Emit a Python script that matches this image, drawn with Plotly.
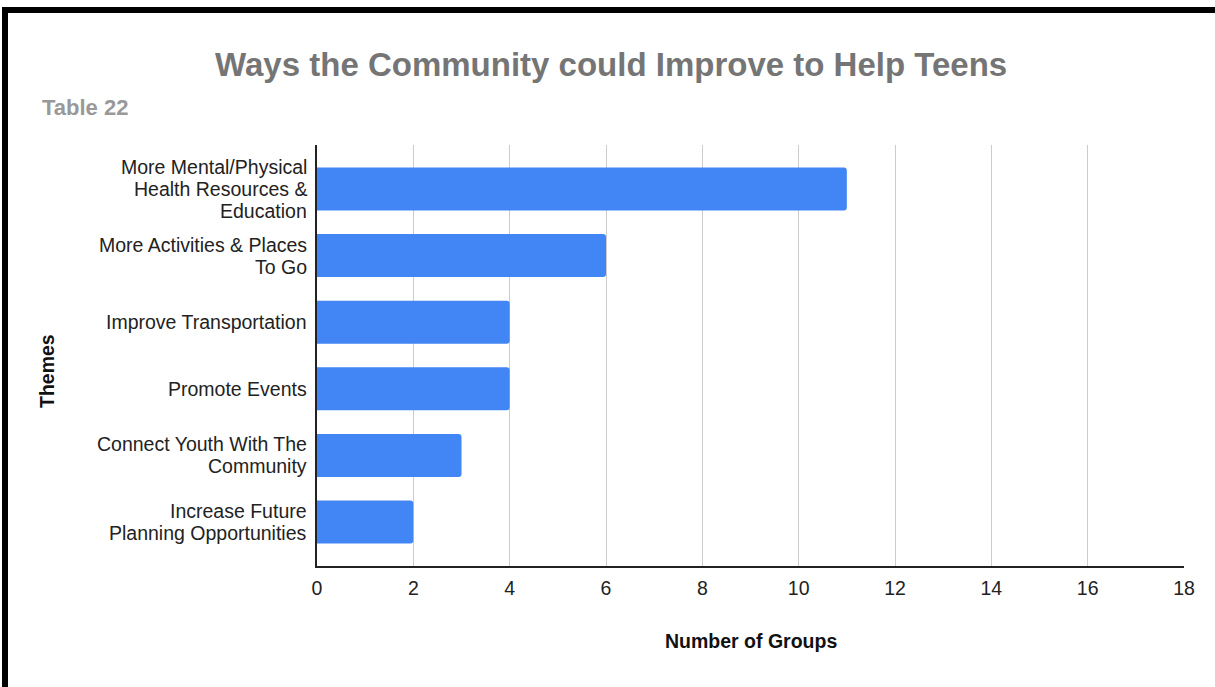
import plotly.graph_objects as go

# Survey themes and how many groups mentioned each
themes = [
    "More Mental/Physical<br>Health Resources &<br>Education",
    "More Activities & Places<br>To Go",
    "Improve Transportation",
    "Promote Events",
    "Connect Youth With The<br>Community",
    "Increase Future<br>Planning Opportunities",
]
group_counts = [11, 6, 4, 4, 3, 2]
x_ticks = [0, 2, 4, 6, 8, 10, 12, 14, 16, 18]

W, H = 1215, 687
L, R, T, B = 317, 1184, 145, 566  # plot area in pixels
LINE_GAP = 22  # pixel spacing between lines of a wrapped category label


def px_x(px):
    return (px - L) / (R - L)


def px_y(py):
    return (B - py) / (B - T)


fig = go.Figure(
    go.Bar(
        x=group_counts,
        y=themes,
        orientation="h",
        marker=dict(color="#4285F4", cornerradius=3, line=dict(width=0)),
        width=0.645,
        hoverinfo="x",
    )
)

FONT = "Liberation Sans, Arial, sans-serif"
label_font = dict(family=FONT, size=19.5, color="#222222")

# Category labels, one annotation per wrapped line so the line spacing stays tight
label_annotations = []
for theme in themes:
    lines = theme.split("<br>")
    n = len(lines)
    for i, line in enumerate(lines):
        label_annotations.append(
            dict(
                text=line,
                xref="paper", yref="y",
                x=0, y=theme,
                xanchor="right", yanchor="middle",
                xshift=-8,
                yshift=((n - 1) / 2 - i) * LINE_GAP,
                showarrow=False,
                font=label_font,
            )
        )

fig.update_layout(
    width=W,
    height=H,
    margin=dict(l=L, r=W - R, t=T, b=H - B, pad=0),
    paper_bgcolor="white",
    plot_bgcolor="white",
    showlegend=False,
    title=dict(
        text="<b>Ways the Community could Improve to Help Teens</b>",
        x=0.503,
        xref="container",
        xanchor="center",
        y=1 - 64 / H,
        yref="container",
        yanchor="middle",
        font=dict(family=FONT, size=33, color="#757575"),
    ),
    xaxis=dict(
        range=[0, 18],
        tickvals=x_ticks,
        showgrid=True,
        gridcolor="#cccccc",
        gridwidth=1,
        zeroline=False,
        showline=True,
        linecolor="#222222",
        linewidth=2,
        ticks="",
        ticklabelstandoff=4,
        tickfont=label_font,
        fixedrange=True,
    ),
    yaxis=dict(
        categoryorder="array",
        categoryarray=themes,
        autorange=False,
        range=[len(themes) - 1 + 0.66, -0.66],
        showgrid=False,
        zeroline=False,
        showline=True,
        linecolor="#222222",
        linewidth=1.5,
        ticks="",
        showticklabels=False,
        fixedrange=True,
    ),
    annotations=label_annotations + [
        dict(
            text="<b>Table 22</b>",
            xref="paper", yref="paper",
            x=px_x(40), y=px_y(108),
            xanchor="left", yanchor="middle",
            showarrow=False,
            font=dict(family=FONT, size=22, color="#999999"),
        ),
        dict(
            text="<b>Number of Groups</b>",
            xref="paper", yref="paper",
            x=px_x(751), y=px_y(641),
            xanchor="center", yanchor="middle",
            showarrow=False,
            font=dict(family=FONT, size=19.5, color="#111111"),
        ),
        dict(
            text="<b>Themes</b>",
            xref="paper", yref="paper",
            x=px_x(47), y=px_y(371),
            xanchor="center", yanchor="middle",
            textangle=-90,
            showarrow=False,
            font=dict(family=FONT, size=19.5, color="#111111"),
        ),
    ],
    shapes=[
        # black frame: top bar and left bar
        dict(type="rect", xref="paper", yref="paper",
             x0=px_x(2), x1=px_x(W + 5), y0=px_y(7), y1=px_y(13),
             fillcolor="black", line=dict(width=0), layer="above"),
        dict(type="rect", xref="paper", yref="paper",
             x0=px_x(2), x1=px_x(8), y0=px_y(7), y1=px_y(H + 5),
             fillcolor="black", line=dict(width=0), layer="above"),
    ],
)

fig.write_html("out.html")
